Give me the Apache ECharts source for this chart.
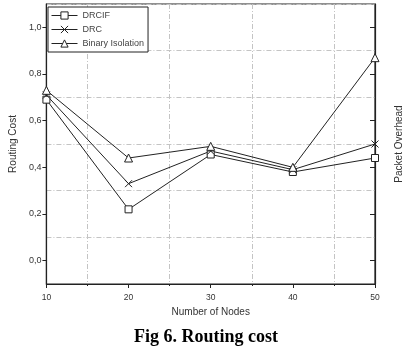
<!DOCTYPE html>
<html><head><meta charset="utf-8">
<script src="https://cdn.jsdelivr.net/npm/echarts@6/dist/echarts.min.js"></script>
<style>html,body{margin:0;padding:0;background:#fff}#c{width:412px;height:350px}</style>
</head><body><div id="c"></div>
<script>
const nodes = [10, 20, 30, 40, 50];
const drcif = [0.69, 0.22, 0.455, 0.38, 0.44];
const drc = [0.71, 0.33, 0.47, 0.39, 0.50];
const binaryIso = [0.73, 0.44, 0.49, 0.40, 0.87];
const yTicks = [0, 0.2, 0.4, 0.6, 0.8, 1.0];
const xTicks = [10, 20, 30, 40, 50];

const font = 'Liberation Sans, Arial, sans-serif';
const ink = '#222';
const gridStyle = {color: '#c4c4c4', width: 1, type: [5, 2, 1, 2]};
const pair = arr => nodes.map((n, i) => [n, arr[i]]);
const mk = (name, arr, symbol, size) => ({
  name, type: 'line', data: pair(arr), symbol, symbolSize: size,
  xAxisIndex: 0, yAxisIndex: 0,
  lineStyle: {color: ink, width: 1},
  itemStyle: {color: '#fff', borderColor: ink, borderWidth: 1},
  emphasis: {disabled: true}, z: 5
});

const chart = echarts.init(document.getElementById('c'), null, {renderer: 'canvas'});
chart.setOption({
  animation: false,
  backgroundColor: '#fff',
  title: {
    text: 'Fig 6. Routing cost', left: 'center', top: 323,
    textStyle: {fontFamily: 'Liberation Serif, Times New Roman, serif', fontWeight: 'bold', fontSize: 18, color: '#000'}
  },
  grid: {left: 44, right: 37, top: 4, bottom: 66, show: true, borderColor: ink, borderWidth: 1.2, backgroundColor: 'transparent'},
  legend: {
    left: 48, top: 7, orient: 'vertical', backgroundColor: '#fff',
    borderColor: ink, borderWidth: 1, borderRadius: 0, padding: [4, 4, 4, 3],
    itemGap: 5, itemWidth: 26, itemHeight: 9,
    lineStyle: {width: 1, color: ink},
    itemStyle: {borderWidth: 1, borderColor: ink, color: '#fff'},
    textStyle: {fontFamily: font, fontSize: 9, color: '#444'},
    data: ['DRCIF', 'DRC', 'Binary Isolation']
  },
  xAxis: [{
    type: 'value', min: 10, max: 50, interval: 10,
    name: 'Number of Nodes', nameLocation: 'middle', nameGap: 22,
    nameTextStyle: {fontFamily: font, fontSize: 10, color: '#333'},
    axisLine: {onZero: false, lineStyle: {color: ink, width: 1.2}},
    axisTick: {show: true, length: 4, lineStyle: {color: ink}},
    minorTick: {show: true, splitNumber: 2, length: 2, lineStyle: {color: ink}},
    splitLine: {show: false},
    minorSplitLine: {show: true, lineStyle: gridStyle},
    axisLabel: {fontFamily: font, fontSize: 8.5, color: '#333', margin: 9}
  }],
  yAxis: [{
    type: 'value', min: -0.1, max: 1.1, position: 'left',
    name: 'Routing Cost', nameLocation: 'middle', nameGap: 22, nameRotate: 90,
    nameTextStyle: {fontFamily: font, fontSize: 10, color: '#333'},
    axisLine: {show: true, onZero: false, lineStyle: {color: ink, width: 1.2}},
    axisTick: {show: true, length: 4, customValues: yTicks, lineStyle: {color: ink}},
    axisLabel: {fontFamily: font, fontSize: 9, color: '#333', margin: 5, customValues: yTicks,
      formatter: v => v.toFixed(1).replace('.', ',')},
    splitLine: {show: false}
  }, {
    type: 'value', min: -0.1, max: 1.1, position: 'right',
    name: 'Packet Overhead', nameLocation: 'middle', nameGap: 19, nameRotate: 90,
    nameTextStyle: {fontFamily: font, fontSize: 10, color: '#333'},
    axisLine: {show: true, onZero: false, lineStyle: {color: ink, width: 1.2}},
    axisTick: {show: true, inside: true, length: 5, customValues: yTicks, lineStyle: {color: ink}},
    axisLabel: {show: false},
    splitLine: {show: false}
  }, {
    type: 'value', min: -0.1, max: 1.1, interval: 0.2, position: 'left', show: true,
    axisLine: {show: false}, axisTick: {show: false}, axisLabel: {show: false},
    splitLine: {show: true, lineStyle: gridStyle}
  }],
  series: [
    mk('DRCIF', drcif, 'rect', 7),
    mk('DRC', drc, 'path://M0,0L10,10M10,0L0,10', 7),
    mk('Binary Isolation', binaryIso, 'triangle', 8)
  ]
});
</script></body></html>
